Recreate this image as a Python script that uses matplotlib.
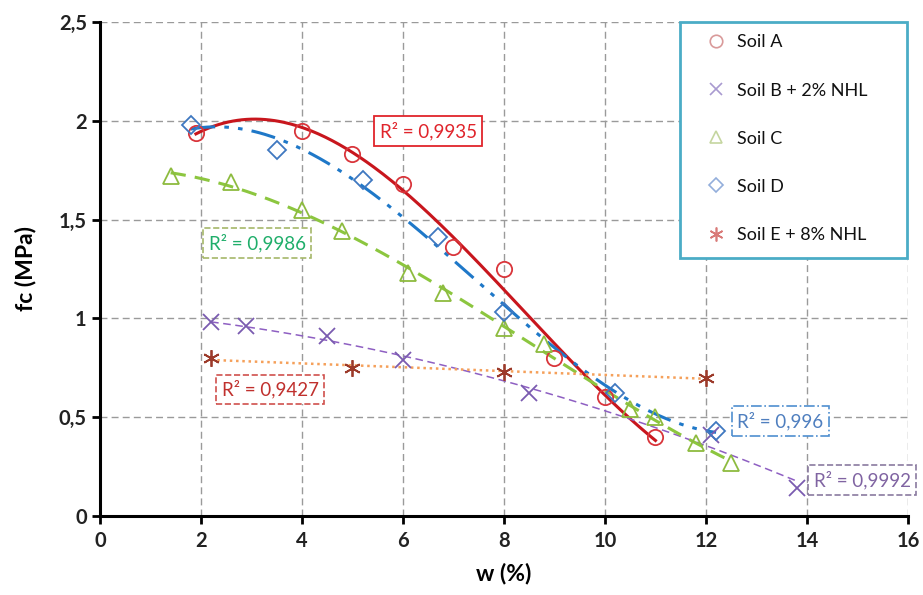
import numpy as np
import matplotlib
matplotlib.use("Agg")
import matplotlib.pyplot as plt
from matplotlib.patches import Rectangle
from matplotlib.ticker import FuncFormatter

plt.rcParams['font.family'] = ['Lato', 'DejaVu Sans']

# Data
soil_a_w = [1.9, 4.0, 5.0, 6.0, 7.0, 8.0, 9.0, 10.0, 11.0]
soil_a_fc = [1.94, 1.95, 1.83, 1.68, 1.36, 1.25, 0.80, 0.60, 0.40]

soil_b_w = [2.2, 2.9, 4.5, 6.0, 8.5, 12.1, 13.8]
soil_b_fc = [0.98, 0.96, 0.91, 0.79, 0.62, 0.41, 0.14]

soil_c_w = [1.4, 2.6, 4.0, 4.8, 6.1, 6.8, 8.0, 8.8, 10.5, 11.0, 11.8, 12.5]
soil_c_fc = [1.72, 1.69, 1.55, 1.44, 1.23, 1.13, 0.95, 0.87, 0.54, 0.50, 0.37, 0.27]

soil_d_w = [1.8, 3.5, 5.2, 6.7, 8.0, 10.2, 12.2]
soil_d_fc = [1.98, 1.85, 1.70, 1.41, 1.03, 0.62, 0.43]

soil_e_w = [2.2, 5.0, 8.0, 12.0]
soil_e_fc = [0.80, 0.75, 0.73, 0.70]

labels = ["Soil A", "Soil B + 2% NHL", "Soil C", "Soil D", "Soil E + 8% NHL"]
r2_texts = ["R² = 0,9935", "R² = 0,9992", "R² = 0,9986", "R² = 0,996", "R² = 0,9427"]

x_ticks = [0, 2, 4, 6, 8, 10, 12, 14, 16]
y_ticks = [0, 0.5, 1, 1.5, 2, 2.5]


def trend(ax, w, fc, deg, **kw):
    """polynomial trendline like the Excel ones"""
    coef = np.polyfit(w, fc, deg)
    xs = np.linspace(min(w), max(w), 200)
    ax.plot(xs, np.polyval(coef, xs), **kw)


fig = plt.figure(figsize=(9.23, 5.95), dpi=100)
ax = fig.add_axes([0.1083, 0.1328, 0.8754, 0.8302])

# trendlines
trend(ax, soil_a_w, soil_a_fc, 3, color='#c8161d', lw=2.2, zorder=3)
trend(ax, soil_b_w, soil_b_fc, 2, color='#8e5fc2', lw=1.1, ls=(0, (5, 3)), zorder=3)
trend(ax, soil_c_w, soil_c_fc, 3, color='#8cc63f', lw=2.2, ls=(0, (5, 3)), zorder=3)
trend(ax, soil_d_w, soil_d_fc, 3, color='#1f78c8', lw=2.2,
      ls=(0, (8, 3, 1.5, 3, 1.5, 3)), zorder=3)
trend(ax, soil_e_w, soil_e_fc, 1, color='#f5a05a', lw=1.8, ls=(0, (1, 1.5)), zorder=3)

# markers
ax.plot(soil_a_w, soil_a_fc, 'o', ms=11, mfc='none', mec='#d9353b', mew=1.3, zorder=4)
ax.plot(soil_b_w, soil_b_fc, 'x', ms=11, mec='#7a5bb0', mew=1.3, zorder=4)
ax.plot(soil_c_w, soil_c_fc, '^', ms=11, mfc='none', mec='#8dbb3f', mew=1.3, zorder=4)
ax.plot(soil_d_w, soil_d_fc, 'D', ms=9, mfc='none', mec='#3f78c0', mew=1.3, zorder=4)
ax.plot(soil_e_w, soil_e_fc, marker=(6, 2, 0), ls='none', ms=12, mec='#9c3a2a', mew=1.3, zorder=4)

# legend box drawn separately so it can be wider than its content
ax.add_patch(Rectangle((0.718, 0.522), 0.281, 0.478, transform=ax.transAxes,
                       fc='white', ec='#4bacc6', lw=2, zorder=5, clip_on=False))

# legend handles (lighter markers, no lines)
handles = [
    ax.plot([], [], 'o', ms=9, mfc='none', mec='#d99a9a', mew=1.2)[0],
    ax.plot([], [], 'x', ms=9, mec='#a99ad0', mew=1.2)[0],
    ax.plot([], [], '^', ms=9, mfc='none', mec='#c5d6a0', mew=1.2)[0],
    ax.plot([], [], 'D', ms=7, mfc='none', mec='#93aedb', mew=1.2)[0],
    ax.plot([], [], marker=(6, 2, 0), ls='none', ms=10, mec='#d97a78', mew=1.2)[0],
]
leg = ax.legend(handles, labels, loc='upper left', bbox_to_anchor=(0.749, 0.975),
                fontsize=13, labelspacing=1.78, handlelength=1.2,
                handletextpad=0.55, borderpad=0, borderaxespad=0, frameon=False)
for t in leg.get_texts():
    t.set_color('#111111')
leg.set_zorder(6)

# R² annotations
ax.text(6.5, 1.95, r2_texts[0], color='#e0242b', fontsize=13.5, ha='center', va='center',
        bbox=dict(boxstyle='square,pad=0.3', fc='white', ec='#e0242b', lw=1.3), zorder=5)
ax.text(3.11, 1.38, r2_texts[2], color='#1fae6a', fontsize=13.5, ha='center', va='center',
        bbox=dict(boxstyle='square,pad=0.3', fc='white', ec='#a6b86a', lw=1.2, ls='--'), zorder=5)
ax.text(3.37, 0.64, r2_texts[4], color='#c0302d', fontsize=13.5, ha='center', va='center',
        bbox=dict(boxstyle='square,pad=0.3', fc='white', ec='#d0504d', lw=1.2, ls='--'), zorder=5)
ax.text(13.47, 0.48, r2_texts[3], color='#4f7fbf', fontsize=13.5, ha='center', va='center',
        bbox=dict(boxstyle='square,pad=0.3', fc='white', ec='#4f8fd0', lw=1.2, ls='-.'), zorder=5)
ax.text(15.09, 0.18, r2_texts[1], color='#8064a2', fontsize=13.5, ha='center', va='center',
        bbox=dict(boxstyle='square,pad=0.3', fc='white', ec='#8a7aa0', lw=1.2, ls='--'), zorder=5)

# axes styling
ax.set_xlim(0, 16)
ax.set_ylim(0, 2.5)
ax.set_xticks(x_ticks)
ax.set_yticks(y_ticks)
ax.yaxis.set_major_formatter(FuncFormatter(lambda v, p: f"{v:g}".replace('.', ',')))
ax.tick_params(axis='both', direction='out', length=6, width=2, labelsize=14.5, colors='black')
for lab in ax.get_xticklabels() + ax.get_yticklabels():
    lab.set_fontweight('bold')
    lab.set_color('#222222')
ax.tick_params(axis='x', pad=5)

ax.grid(True, color='#9a9a9a', ls=(0, (5, 3)), lw=1)
ax.set_axisbelow(True)
for s in ['top', 'right']:
    ax.spines[s].set_visible(False)
for s in ['left', 'bottom']:
    ax.spines[s].set_linewidth(2.2)
    ax.spines[s].set_color('black')

ax.set_xlabel("w (%)", fontsize=16.5, fontweight='bold', labelpad=8)
ax.set_ylabel("fc (MPa)", fontsize=16.5, fontweight='bold', labelpad=16)

fig.savefig("out.png", dpi=100)
